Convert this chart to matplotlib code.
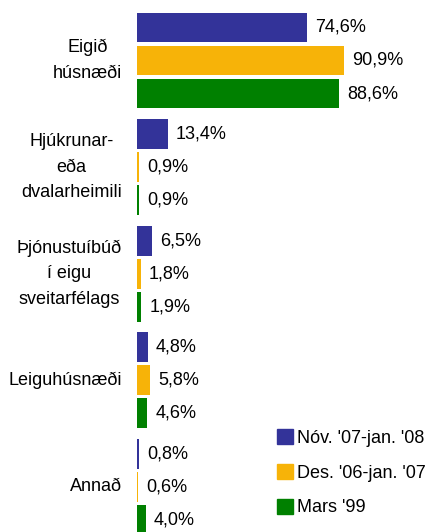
import matplotlib.pyplot as plt
from matplotlib.patches import Patch

categories = ["Eigið\nhúsnæði", "Hjúkrunar-\neða\ndvalarheimili",
              "Þjónustuíbúð\ní eigu\nsveitarfélags", "Leiguhúsnæði", "Annað"]
series = ["Nóv. '07-jan. '08", "Des. '06-jan. '07", "Mars '99"]
nov07 = [74.6, 13.4, 6.5, 4.8, 0.8]
des06 = [90.9, 0.9, 1.8, 5.8, 0.6]
mars99 = [88.6, 0.9, 1.9, 4.6, 4.0]
colors = ["#333399", "#F7B308", "#008000"]

plt.rcParams['font.family'] = ['Liberation Sans', 'DejaVu Sans']
fs = 13

fig = plt.figure(figsize=(4.36, 5.32), dpi=100)
ax = fig.add_axes([137 / 436, 0, 299 / 436, 1])

# three bars per category: newest on top
offsets = [-0.31, 0, 0.31]
for values, color, off in zip([nov07, des06, mars99], colors, offsets):
    ys = [i + off for i in range(len(categories))]
    ax.barh(ys, values, height=0.28, color=color)
    for y, v in zip(ys, values):
        ax.text(v + 3.5, y, f"{v:.1f}".replace('.', ',') + '%',
                ha='left', va='center', fontsize=fs)

for i, cat in enumerate(categories):
    ax.text(-6.6, i, cat, ha='right', va='center', multialignment='center',
            fontsize=fs, linespacing=1.66)

ax.set_xlim(0, 131)
ax.set_ylim(4.423, -0.5675)
ax.axis('off')

handles = [Patch(color=c) for c in colors]
fig.legend(handles, series, loc='upper left', bbox_to_anchor=(277 / 436, 1 - 429 / 532),
           frameon=False, fontsize=fs, handlelength=0.9, handleheight=0.9,
           handletextpad=0.22, labelspacing=0.95, borderpad=0, borderaxespad=0)

fig.savefig("out.png", dpi=100)
